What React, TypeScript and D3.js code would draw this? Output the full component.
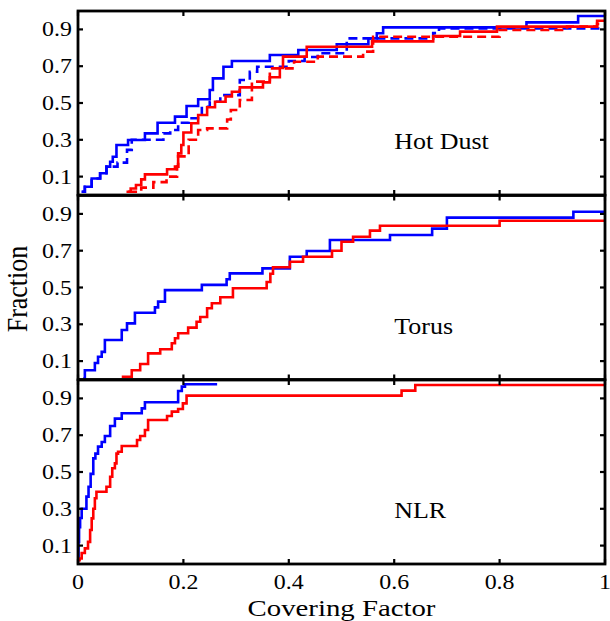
import React from "react";
import * as d3 from "d3";

// ---------- data (step CDFs: fraction reached at each covering-factor step) ----------
const hotDustBlueSolidX = [0.007, 0.013, 0.026, 0.042, 0.054, 0.061, 0.066, 0.073, 0.095, 0.127, 0.151, 0.184, 0.206, 0.228, 0.25, 0.256, 0.276, 0.292, 0.364, 0.418, 0.491, 0.551, 0.567, 0.579, 0.851, 0.949, 1.0];
const hotDustBlueSolidY = [0.018, 0.045, 0.09, 0.118, 0.154, 0.181, 0.208, 0.272, 0.299, 0.335, 0.393, 0.426, 0.484, 0.52, 0.571, 0.634, 0.697, 0.728, 0.761, 0.788, 0.819, 0.851, 0.879, 0.911, 0.938, 0.973, 0.973];

const hotDustBlueDashX = [0.007, 0.013, 0.026, 0.042, 0.054, 0.075, 0.093, 0.102, 0.162, 0.175, 0.19, 0.21, 0.235, 0.25, 0.27, 0.307, 0.326, 0.34, 0.4, 0.43, 0.455, 0.51, 0.674, 0.685, 1.0];
const hotDustBlueDashY = [0.018, 0.045, 0.09, 0.118, 0.154, 0.176, 0.245, 0.3, 0.335, 0.353, 0.393, 0.417, 0.48, 0.507, 0.543, 0.625, 0.67, 0.697, 0.728, 0.75, 0.77, 0.851, 0.88, 0.905, 0.905];

const hotDustRedSolidX = [0.092, 0.1, 0.11, 0.12, 0.127, 0.169, 0.184, 0.19, 0.196, 0.2, 0.215, 0.228, 0.245, 0.26, 0.28, 0.292, 0.307, 0.351, 0.364, 0.383, 0.389, 0.434, 0.558, 0.674, 0.725, 0.795, 0.985, 1.0];
const hotDustRedSolidY = [0.018, 0.035, 0.054, 0.085, 0.112, 0.14, 0.154, 0.226, 0.272, 0.34, 0.39, 0.435, 0.477, 0.507, 0.535, 0.561, 0.585, 0.612, 0.64, 0.69, 0.752, 0.806, 0.835, 0.864, 0.888, 0.915, 0.947, 0.947];

const hotDustRedDashX = [0.095, 0.12, 0.143, 0.168, 0.188, 0.19, 0.21, 0.228, 0.245, 0.283, 0.29, 0.307, 0.33, 0.364, 0.41, 0.455, 0.541, 0.56, 0.8, 0.928, 0.985, 1.0];
const hotDustRedDashY = [0.018, 0.04, 0.07, 0.1, 0.154, 0.21, 0.3, 0.353, 0.362, 0.41, 0.462, 0.516, 0.616, 0.688, 0.724, 0.752, 0.779, 0.86, 0.897, 0.915, 0.93, 0.93];

const torusBlueX = [0.01, 0.013, 0.032, 0.038, 0.045, 0.051, 0.083, 0.093, 0.108, 0.146, 0.152, 0.165, 0.235, 0.282, 0.288, 0.35, 0.402, 0.434, 0.478, 0.592, 0.672, 0.7, 0.94, 1.0];
const torusBlueY = [0.007, 0.05, 0.09, 0.124, 0.15, 0.215, 0.269, 0.305, 0.363, 0.392, 0.423, 0.486, 0.514, 0.545, 0.577, 0.604, 0.667, 0.698, 0.758, 0.785, 0.82, 0.88, 0.912, 0.912];

const torusRedX = [0.083, 0.102, 0.118, 0.133, 0.156, 0.178, 0.184, 0.19, 0.209, 0.225, 0.232, 0.245, 0.254, 0.27, 0.294, 0.358, 0.365, 0.37, 0.402, 0.427, 0.482, 0.5, 0.522, 0.554, 0.573, 0.8, 1.0];
const torusRedY = [0.015, 0.05, 0.084, 0.142, 0.164, 0.197, 0.224, 0.251, 0.282, 0.314, 0.34, 0.387, 0.414, 0.447, 0.496, 0.53, 0.575, 0.61, 0.64, 0.667, 0.7, 0.749, 0.776, 0.809, 0.836, 0.863, 0.863];

const nlrBlueX = [0, 0.001, 0.002, 0.004, 0.007, 0.016, 0.02, 0.024, 0.029, 0.033, 0.038, 0.045, 0.051, 0.061, 0.07, 0.083, 0.121, 0.127, 0.19, 0.197, 0.203, 0.264];
const nlrBlueY = [0.02, 0.12, 0.2, 0.25, 0.3, 0.366, 0.42, 0.49, 0.574, 0.6, 0.638, 0.663, 0.696, 0.75, 0.79, 0.819, 0.846, 0.879, 0.94, 0.964, 0.977, 0.977];

const nlrRedX = [0, 0.003, 0.007, 0.013, 0.019, 0.023, 0.026, 0.029, 0.032, 0.035, 0.054, 0.061, 0.065, 0.07, 0.073, 0.076, 0.083, 0.112, 0.118, 0.127, 0.133, 0.169, 0.178, 0.19, 0.199, 0.206, 0.614, 0.64, 1.0];
const nlrRedY = [0.02, 0.03, 0.06, 0.085, 0.12, 0.185, 0.248, 0.3, 0.357, 0.393, 0.42, 0.474, 0.52, 0.547, 0.6, 0.61, 0.641, 0.674, 0.696, 0.728, 0.783, 0.804, 0.828, 0.842, 0.873, 0.915, 0.942, 0.973, 0.973];

const panelNames = ["Hot Dust", "Torus", "NLR"];
const xTicks = [0, 0.2, 0.4, 0.6, 0.8, 1];
const xTickLabels = ["0", "0.2", "0.4", "0.6", "0.8", "1"];
const yTicks = [0.1, 0.3, 0.5, 0.7, 0.9];
const yTickLabels = ["0.1", "0.3", "0.5", "0.7", "0.9"];
const xLabel = "Covering Factor";
const yLabel = "Fraction";

type Series = { xs: number[]; ys: number[]; color: string; dashed: boolean };

const panels: { name: string; series: Series[] }[] = [
  {
    name: panelNames[0],
    series: [
      { xs: hotDustBlueSolidX, ys: hotDustBlueSolidY, color: "#0000ff", dashed: false },
      { xs: hotDustBlueDashX, ys: hotDustBlueDashY, color: "#0000ff", dashed: true },
      { xs: hotDustRedSolidX, ys: hotDustRedSolidY, color: "#ff0000", dashed: false },
      { xs: hotDustRedDashX, ys: hotDustRedDashY, color: "#ff0000", dashed: true },
    ],
  },
  {
    name: panelNames[1],
    series: [
      { xs: torusBlueX, ys: torusBlueY, color: "#0000ff", dashed: false },
      { xs: torusRedX, ys: torusRedY, color: "#ff0000", dashed: false },
    ],
  },
  {
    name: panelNames[2],
    series: [
      { xs: nlrBlueX, ys: nlrBlueY, color: "#0000ff", dashed: false },
      { xs: nlrRedX, ys: nlrRedY, color: "#ff0000", dashed: false },
    ],
  },
];

// ---------- layout ----------
const W = 610;
const H = 621;
const left = 78;
const right = 605;
const panelTops = [11, 195.5, 380];
const panelH = 184;
const FONT = "'Liberation Serif', 'Times New Roman', Times, serif";
const SX = 1.14;

const x = d3.scaleLinear().domain([0, 1]).range([left, right]);

function T({ x, y, anchor = "start", size, sx = SX, children }: any) {
  return (
    <text
      transform={`translate(${x},${y}) scale(${sx},1)`}
      textAnchor={anchor}
      fontSize={size}
      fontFamily={FONT}
      fill="#000"
    >
      {children}
    </text>
  );
}

export default function App() {
  return (
    <svg width={W} height={H} style={{ position: "absolute", left: 0, top: 0, background: "#fff" }}>
      <rect x={0} y={0} width={W} height={H} fill="#fff" />
      {panels.map((p, pi) => {
        const top = panelTops[pi];
        const y = d3.scaleLinear().domain([0, 1]).range([top + panelH, top]);
        const line = d3
          .line<[number, number]>()
          .x((d) => x(d[0]))
          .y((d) => y(d[1]))
          .curve(d3.curveStepAfter);
        return (
          <g key={p.name}>
            {p.series.map((s, si) => (
              <path
                key={si}
                d={line(s.xs.map((v, i) => [v, s.ys[i]] as [number, number])) || ""}
                fill="none"
                stroke={s.color}
                strokeWidth={2.6}
                strokeDasharray={s.dashed ? "9,5" : undefined}
              />
            ))}
            <rect x={left} y={top} width={right - left} height={panelH} fill="none" stroke="#000" strokeWidth={2.8} />
            {xTicks.map((t) => (
              <g key={"xt" + t}>
                <line x1={x(t)} x2={x(t)} y1={top + panelH} y2={top + panelH - 5} stroke="#000" strokeWidth={2.2} />
                <line x1={x(t)} x2={x(t)} y1={top} y2={top + 5} stroke="#000" strokeWidth={2.2} />
              </g>
            ))}
            {yTicks.map((t, ti) => (
              <g key={"yt" + t}>
                <line x1={left} x2={left + 5} y1={y(t)} y2={y(t)} stroke="#000" strokeWidth={2.2} />
                <line x1={right} x2={right - 5} y1={y(t)} y2={y(t)} stroke="#000" strokeWidth={2.2} />
                <T x={72} y={y(t) + 7} anchor="end" size={21}>
                  {yTickLabels[ti]}
                </T>
              </g>
            ))}
            <T x={x(0.6)} y={y(0.25)} size={23} sx={1.13}>
              {p.name}
            </T>
          </g>
        );
      })}
      {xTicks.map((t, i) => (
        <T key={"xl" + t} x={x(t)} y={588.5} anchor="middle" size={21}>
          {xTickLabels[i]}
        </T>
      ))}
      <T x={x(0.5)} y={616} anchor="middle" size={24} sx={1.2}>
        {xLabel}
      </T>
      <text
        transform={`translate(27,289) scale(1.15,1) rotate(-90)`}
        textAnchor="middle"
        fontSize={26}
        fontFamily={FONT}
        fill="#000"
      >
        {yLabel}
      </text>
    </svg>
  );
}
